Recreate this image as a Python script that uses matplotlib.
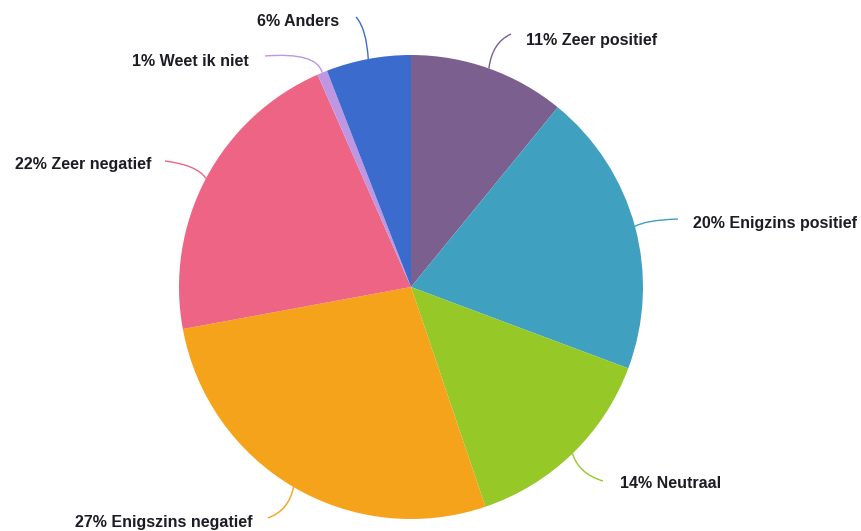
import numpy as np
import matplotlib
matplotlib.use("Agg")
import matplotlib.pyplot as plt
from matplotlib.path import Path
from matplotlib.patches import PathPatch

# data (shares, labels as printed)
labels = ["11% Zeer positief", "20% Enigzins positief", "14% Neutraal",
          "27% Enigszins negatief", "22% Zeer negatief", "1% Weet ik niet", "6% Anders"]
shares = [10.9, 19.8, 14.1, 27.3, 21.3, 0.7, 5.9]
colors = ["#7B5F8E", "#40A0C0", "#96C828", "#F4A31A", "#EE6484", "#BE96E1", "#3B6CCD"]

W, H = 862, 531
# label layout in pixel coords: (line end x, line end y, text x, text y, ha)
label_pos = [
    (511, 34, 526, 40, "left"),
    (678, 219, 693, 223, "left"),
    (603, 481, 620, 484, "left"),
    (268, 518, 253, 522, "right"),
    (165, 161, 151, 164, "right"),
    (265, 56, 249, 61, "right"),
    (356, 17, 339, 21, "right"),
]

fig = plt.figure(figsize=(W / 100, H / 100), dpi=100)
ax = fig.add_axes([0, 0, 1, 1])

cx, cy, r = 411, H - 287, 232
wedges, _ = ax.pie(shares, colors=colors, startangle=90, counterclock=False,
                   center=(cx, cy), radius=r, frame=True,
                   wedgeprops=dict(linewidth=0))
ax.set_xlim(0, W)
ax.set_ylim(0, H)
ax.set_aspect("equal")
ax.axis("off")

# curved connectors from the slice edge to the label
for w, lab, col, (lx, ly, tx, ty, ha) in zip(wedges, labels, colors, label_pos):
    mid = np.deg2rad((w.theta1 + w.theta2) / 2)
    p0 = np.array([cx + r * np.cos(mid), cy + r * np.sin(mid)])
    p2 = np.array([lx, H - ly])
    dist = np.hypot(*(p2 - p0))
    radial = p0 + 0.45 * dist * np.array([np.cos(mid), np.sin(mid)])
    corner = np.array([p0[0], p2[1]])
    p1 = 0.5 * radial + 0.5 * corner
    path = Path([p0, p1, p2], [Path.MOVETO, Path.CURVE3, Path.CURVE3])
    ax.add_patch(PathPatch(path, fill=False, edgecolor=col, linewidth=1))
    ax.text(tx, H - ty, lab, ha=ha, va="center", fontsize=11.5, fontweight="bold",
            family="Liberation Sans", color="#1c1c24")

fig.savefig("out.png", dpi=100)
